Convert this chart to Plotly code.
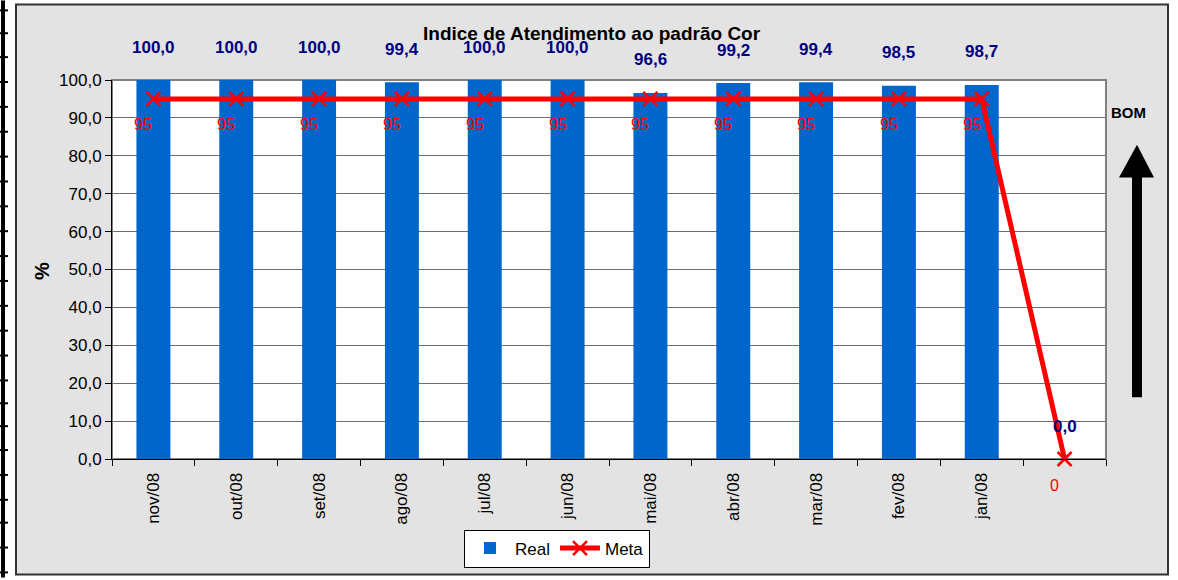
import plotly.graph_objects as go

categories = ["nov/08", "out/08", "set/08", "ago/08", "jul/08", "jun/08",
              "mai/08", "abr/08", "mar/08", "fev/08", "jan/08", " "]
real = [100.0, 100.0, 100.0, 99.4, 100.0, 100.0, 96.6, 99.2, 99.4, 98.5, 98.7, 0.0]
meta = [95, 95, 95, 95, 95, 95, 95, 95, 95, 95, 95, 0]
y_ticks = [0, 10, 20, 30, 40, 50, 60, 70, 80, 90, 100]

FONT = "Liberation Sans, Arial, sans-serif"
L, R, T, B = 112, 1106, 80, 461
W, H = 1178, 580


def px(x):
    return (x - L) / (R - L)


def py(y):
    return (B - y) / (B - T)


fig = go.Figure()
fig.add_trace(go.Bar(x=categories, y=real, name="Real", marker_color="#0066cc",
                     width=0.41, marker_line_width=0))
fig.add_trace(go.Scatter(x=categories, y=meta, name="Meta", mode="lines+markers",
                         line=dict(color="#ff0000", width=5),
                         marker=dict(symbol="x-thin", size=14,
                                     line=dict(color="#ff0000", width=2.5), color="#ff0000"),
                         cliponaxis=False))

annotations = []
for c, v in zip(categories, real):
    annotations.append(dict(x=c, y=v, xref="x", yref="y", text=f"{v:.1f}".replace(".", ","),
                            showarrow=False, yshift=33, xanchor="center", yanchor="middle",
                            font=dict(family=FONT, size=17, color="#000080", weight="bold")))
for c, v in zip(categories, meta):
    annotations.append(dict(x=c, y=v, xref="x", yref="y", text=str(v), showarrow=False,
                            xshift=-10, yshift=-26, xanchor="center", yanchor="middle",
                            font=dict(family=FONT, size=16, color="#ff0000")))
annotations.append(dict(x=px(1128), y=py(113), xref="paper", yref="paper", text="<b>BOM</b>",
                        showarrow=False, xanchor="center", yanchor="middle",
                        font=dict(family=FONT, size=15, color="black")))
annotations.append(dict(x=px(42), y=py(272), xref="paper", yref="paper", text="<b>%</b>",
                        showarrow=False, textangle=-90, xanchor="center", yanchor="middle",
                        font=dict(family=FONT, size=20, color="black")))
annotations.append(dict(x=px(592), y=py(33), xref="paper", yref="paper",
                        text="<b>Indice de Atendimento ao padrão Cor</b>",
                        showarrow=False, xanchor="center", yanchor="middle",
                        font=dict(family=FONT, size=19, color="black")))

shapes = [
    dict(type="rect", xref="paper", yref="paper", x0=px(16), x1=px(1168), y0=py(577), y1=py(4),
         fillcolor="#e3e3e3", line=dict(color="#333333", width=2), layer="below"),
    dict(type="rect", xref="paper", yref="paper", x0=0, x1=1, y0=0, y1=1,
         fillcolor="white", line=dict(color="#808080", width=2), layer="below"),
    # arrow shaft
    dict(type="rect", xref="paper", yref="paper", x0=px(1132), x1=px(1142), y0=py(399), y1=py(176),
         fillcolor="black", line=dict(width=0)),
    # arrow head
    dict(type="path", xref="paper", yref="paper",
         path=f"M {px(1119)},{py(178)} L {px(1154)},{py(178)} L {px(1137)},{py(145)} Z",
         fillcolor="black", line=dict(width=0)),
    # left spreadsheet border
    dict(type="rect", xref="paper", yref="paper", x0=px(1), x1=px(5), y0=py(580), y1=py(0),
         fillcolor="black", line=dict(width=0)),
]
for yy in [10, 33, 57, 82, 107, 132, 157, 182, 207, 232, 257, 282, 307, 332, 357, 382, 405,
           428, 452, 477, 502, 525, 550, 575]:
    shapes.append(dict(type="line", xref="paper", yref="paper", x0=px(0), x1=px(8),
                       y0=py(yy), y1=py(yy), line=dict(color="black", width=2)))

fig.update_layout(
    width=W, height=H,
    margin=dict(l=L, r=W - R, t=T, b=H - B, pad=0),
    paper_bgcolor="white", plot_bgcolor="white",
    separators=",.",
    font=dict(family=FONT, size=17, color="black"),
    showlegend=True,
    legend=dict(orientation="h", x=px(557), y=py(551), xanchor="center", yanchor="middle",
                bgcolor="white", bordercolor="black", borderwidth=1,
                font=dict(family=FONT, size=17, color="black"), itemwidth=40,
                tracegroupgap=0),
    annotations=annotations,
    shapes=shapes,
    bargap=0.59,
)
fig.update_xaxes(type="category", range=[-0.5, 11.5], tickangle=-90, tickson="boundaries",
                 ticks="outside", ticklen=6, tickcolor="black", showline=True,
                 linecolor="black", linewidth=1, showgrid=False, ticklabelstandoff=6,
                 tickfont=dict(family=FONT, size=17, color="black"))
fig.update_yaxes(range=[0, 100], tickvals=y_ticks, tickformat=".1f", ticks="outside",
                 ticklen=6, tickcolor="black", showline=True, linecolor="black", linewidth=1,
                 showgrid=True, gridcolor="#6e6e6e", gridwidth=1, zeroline=False,
                 tickfont=dict(family=FONT, size=17, color="black"))

fig.write_html("out.html", config={"displayModeBar": False},
               post_script="document.body.style.margin='0px';")
